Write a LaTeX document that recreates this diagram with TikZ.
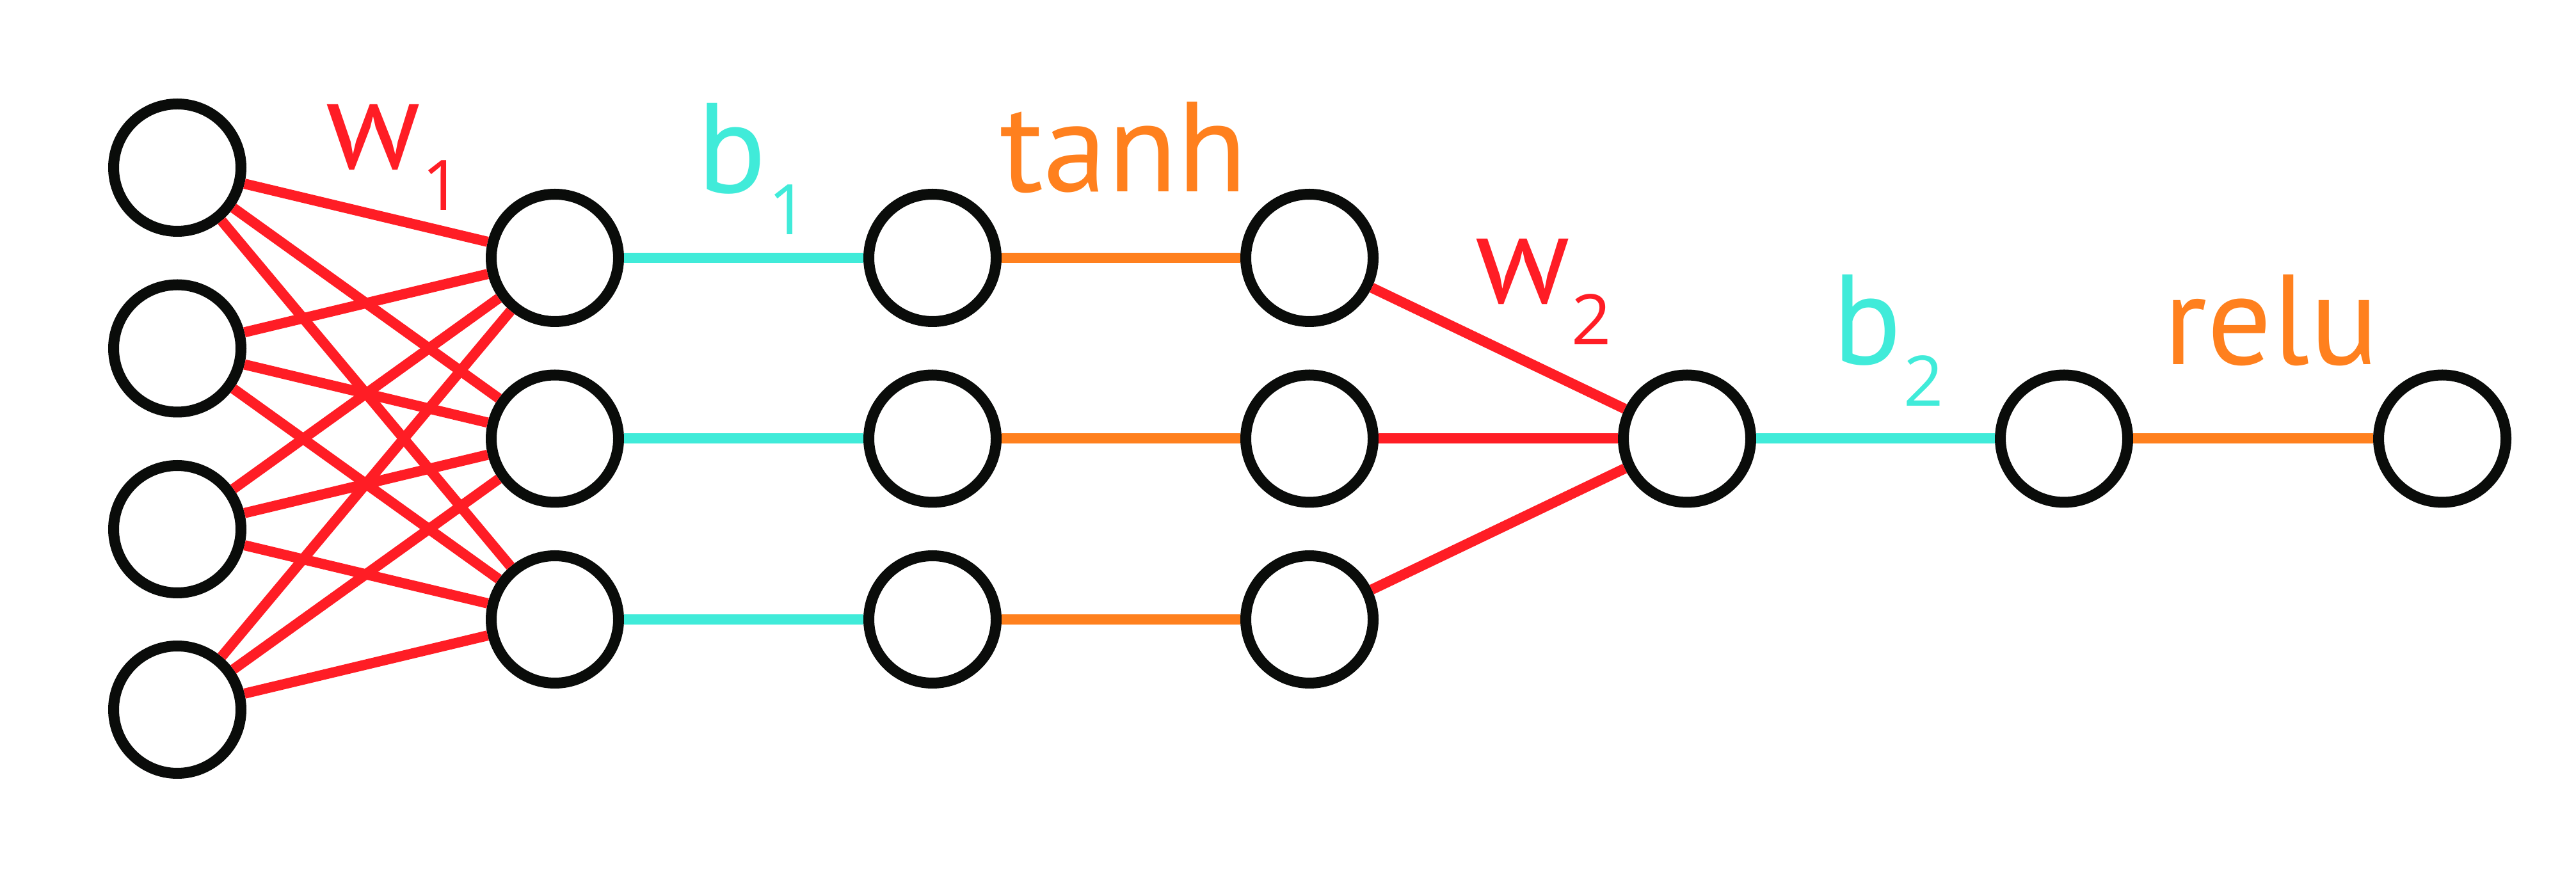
\documentclass[tikz,border=0pt]{standalone}
\usepackage{fontspec}
\setmainfont{PT Sans}
\newfontfamily\idxfont{Open Sans}
\usetikzlibrary{positioning}
\definecolor{WRed}{HTML}{FF1D25}
\definecolor{BCyan}{HTML}{40EBD9}
\definecolor{ActOrange}{HTML}{FF801E}
\definecolor{NodeBlack}{HTML}{0A0C0A}
% letter with lowered index, as in the drawing
\newcommand{\sublbl}[2]{#1\kern0.03cm\raisebox{-0.65cm}{\idxfont\fontsize{31}{31}\selectfont #2}}

\begin{document}
\begin{tikzpicture}[
  neuron/.style={circle, draw=NodeBlack, fill=white, line width=0.17cm, minimum size=1.99cm, inner sep=0pt},
  conn/.style={line width=0.16cm},
  lbl/.style={anchor=base west, inner sep=0pt, font=\fontsize{57}{57}\selectfont}]
  \useasboundingbox (0,0) rectangle (40.25,-13.58);
  % Input layer: 4 units
  \foreach \i/\y in {1/-2.62, 2/-5.445, 3/-8.27, 4/-11.09}
    \node[neuron] (in\i) at (2.77,\y) {};
  % Hidden layer: linear, bias, tanh (3 units each)
  \foreach \j/\y in {1/-4.03, 2/-6.855, 3/-9.68} {
    \node[neuron] (ha\j) at (8.67,\y) {};
    \node[neuron] (hb\j) at (14.57,\y) {};
    \node[neuron] (hc\j) at (20.46,\y) {};
  }
  % Output: linear, bias, relu
  \node[neuron] (oa) at (26.36,-6.855) {};
  \node[neuron] (ob) at (32.25,-6.855) {};
  \node[neuron] (oc) at (38.16,-6.855) {};
  % Weights W1: all to all
  \foreach \i in {1,...,4}
    \foreach \j in {1,2,3}
      \draw[conn, WRed] (in\i) -- (ha\j);
  % b1, tanh, W2
  \foreach \j in {1,2,3} {
    \draw[conn, BCyan] (ha\j) -- (hb\j);
    \draw[conn, ActOrange] (hb\j) -- (hc\j);
    \draw[conn, WRed] (hc\j) -- (oa);
  }
  \draw[conn, BCyan] (oa) -- (ob);
  \draw[conn, ActOrange] (ob) -- (oc);
  % Labels
  \node[lbl, text=WRed] (lw1) at (5.09,-2.64) {\sublbl{w}{1}};
  \node[lbl, text=BCyan] (lb1) at (10.89,-3.02) {\sublbl{b}{1}};
  \node[lbl, text=ActOrange] (ltanh) at (15.62,-3.00) {tanh};
  \node[lbl, text=WRed] (lw2) at (23.05,-4.74) {\sublbl{w}{2}};
  \node[lbl, text=BCyan] (lb2) at (28.63,-5.70) {\sublbl{b}{2}};
  \node[lbl, text=ActOrange] (lrelu) at (33.80,-5.70) {relu};
\end{tikzpicture}
\end{document}
